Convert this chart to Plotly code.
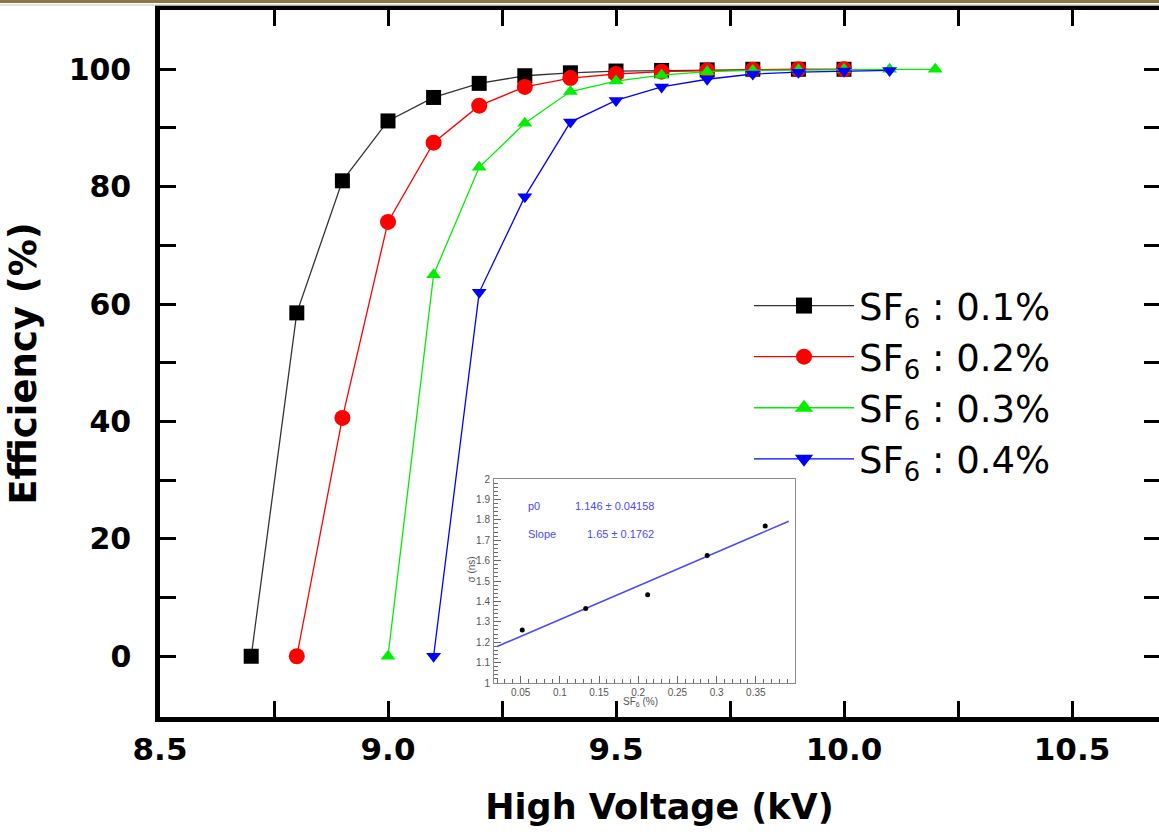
import plotly.graph_objects as go

# ---------------- data ----------------
hv_01 = [8.7, 8.8, 8.9, 9.0, 9.1, 9.2, 9.3, 9.4, 9.5, 9.6, 9.7, 9.8, 9.9, 10.0]
eff_01 = [0, 58.5, 81.0, 91.2, 95.2, 97.6, 98.9, 99.4, 99.7, 99.8, 99.9, 100, 100, 100]

hv_02 = [8.8, 8.9, 9.0, 9.1, 9.2, 9.3, 9.4, 9.5, 9.6, 9.7, 9.8, 9.9, 10.0]
eff_02 = [0, 40.6, 74.0, 87.5, 93.8, 97.0, 98.5, 99.2, 99.6, 99.8, 99.9, 100, 100]

hv_03 = [9.0, 9.1, 9.2, 9.3, 9.4, 9.5, 9.6, 9.7, 9.8, 9.9, 10.0, 10.1, 10.2]
eff_03 = [0, 65.0, 83.3, 90.8, 96.2, 98.0, 99.0, 99.6, 99.8, 99.9, 100, 100, 100]

hv_04 = [9.1, 9.2, 9.3, 9.4, 9.5, 9.6, 9.7, 9.8, 9.9, 10.0, 10.1]
eff_04 = [0, 62.0, 78.3, 91.0, 94.7, 97.0, 98.3, 99.2, 99.5, 99.7, 99.8]

series_labels = ["SF<sub>6</sub> : 0.1%", "SF<sub>6</sub> : 0.2%",
                 "SF<sub>6</sub> : 0.3%", "SF<sub>6</sub> : 0.4%"]
series_colors = ["#000000", "#ff0000", "#00ee00", "#0000ff"]
series_symbols = ["square", "circle", "triangle-up", "triangle-down"]

x_ticks = [8.5, 9.0, 9.5, 10.0, 10.5]
x_ticklabels = ["8.5", "9.0", "9.5", "10.0", "10.5"]
y_ticks = [0, 20, 40, 60, 80, 100]

# time resolution vs SF6 fraction (inset)
sf6_frac = [0.052, 0.133, 0.212, 0.288, 0.362]
sigma_ns = [1.26, 1.365, 1.432, 1.625, 1.77]
fit_p0 = 1.146
fit_slope = 1.65
fit_x = [0.02, 0.392]
fit_y = [fit_p0 + fit_slope * v for v in fit_x]
inset_xticks = [0.05, 0.1, 0.15, 0.2, 0.25, 0.3, 0.35]
inset_xticklabels = ["0.05", "0.1", "0.15", "0.2", "0.25", "0.3", "0.35"]
inset_yticks = [1, 1.1, 1.2, 1.3, 1.4, 1.5, 1.6, 1.7, 1.8, 1.9, 2]
inset_yticklabels = ["1", "1.1", "1.2", "1.3", "1.4", "1.5", "1.6", "1.7", "1.8", "1.9", "2"]

# ---------------- figure ----------------
W, H = 1159, 832
ML, MR, MT, MB = 160, 0, 10, 115
PW, PH = W - ML - MR, H - MT - MB

def px_x(p):
    return (p - ML) / PW

def px_y(p):
    return (H - MB - p) / PH

fig = go.Figure()

all_x = [hv_01, hv_02, hv_03, hv_04]
all_y = [eff_01, eff_02, eff_03, eff_04]
plot_sizes = [15, 16, 13, 13]
legend_sizes = [22, 24, 16, 16]
line_colors = ["#333333", "#ff0000", "#00ee00", "#0000ff"]

for xs, ys, lab, col, sym, ms, lc in zip(all_x, all_y, series_labels, series_colors,
                                          series_symbols, plot_sizes, line_colors):
    fig.add_trace(go.Scatter(
        x=xs, y=ys, mode="lines+markers", name=lab, showlegend=False,
        line=dict(color=lc, width=1.3),
        marker=dict(symbol=sym, size=ms, color=col, line=dict(width=0)),
        xaxis="x", yaxis="y"))

# legend entries with larger symbols
for lab, col, sym, ms, lc in zip(series_labels, series_colors, series_symbols,
                                 legend_sizes, line_colors):
    fig.add_trace(go.Scatter(
        x=[None], y=[None], mode="lines+markers", name=lab, showlegend=True,
        line=dict(color=lc, width=1.3),
        marker=dict(symbol=sym, size=ms, color=col, line=dict(width=0)),
        xaxis="x", yaxis="y"))

# inset: fit line and points
fig.add_trace(go.Scatter(
    x=fit_x, y=fit_y, mode="lines", showlegend=False,
    line=dict(color="#4a4aff", width=1.6), xaxis="x2", yaxis="y2"))
fig.add_trace(go.Scatter(
    x=sf6_frac, y=sigma_ns, mode="markers", showlegend=False,
    marker=dict(color="#000000", size=5), xaxis="x2", yaxis="y2"))

main_font = "DejaVu Sans"
inset_grey = "#666666"

fig.update_layout(
    width=W, height=H,
    margin=dict(l=ML, r=MR, t=MT, b=MB, pad=0),
    paper_bgcolor="white", plot_bgcolor="white",
    font=dict(family=main_font, color="black"),
    showlegend=True,
    legend=dict(
        x=px_x(749), y=px_y(275), xanchor="left", yanchor="top",
        bgcolor="rgba(0,0,0,0)", borderwidth=0,
        font=dict(family=main_font, size=37, color="black"),
        itemwidth=100, tracegroupgap=0, itemclick=False,
    ),
    xaxis=dict(
        range=[8.5, 8.5 + PW / 456.0], domain=[0, 1],
        tickvals=x_ticks, ticktext=x_ticklabels,
        ticks="inside", ticklen=16, tickwidth=3, tickcolor="black",
        minor=dict(tickvals=[8.75, 9.25, 9.75, 10.25], ticks="inside",
                   ticklen=9, tickwidth=3, tickcolor="black"),
        showline=True, linewidth=4.5, linecolor="black", mirror="allticks",
        showgrid=False, zeroline=False,
        tickfont=dict(family=main_font, size=31, color="black", weight="bold"),
        ticklabelstandoff=1,
        title=dict(text="High Voltage (kV)", standoff=30,
                   font=dict(family=main_font, size=35, color="black", weight="bold")),
    ),
    yaxis=dict(
        range=[-10.35, 110.1], domain=[0, 1],
        tickvals=y_ticks,
        ticks="inside", ticklen=16, tickwidth=3, tickcolor="black",
        minor=dict(tickvals=[10, 30, 50, 70, 90], ticks="inside",
                   ticklen=16, tickwidth=3, tickcolor="black"),
        showline=True, linewidth=4.5, linecolor="black", mirror=False,
        showgrid=False, zeroline=False,
        tickfont=dict(family=main_font, size=30, color="black", weight="bold"),
        ticklabelstandoff=18,
        title=dict(text="Efficiency (%)", standoff=22,
                   font=dict(family=main_font, size=37, color="black", weight="bold")),
    ),
    # right-hand tick marks (the right spine itself lies just off the page)
    yaxis3=dict(
        range=[-10.35, 110.1], overlaying="y", side="right", anchor="free",
        position=1.0, showline=False, showgrid=False, zeroline=False,
        tickvals=y_ticks, showticklabels=False,
        ticks="inside", ticklen=15, tickwidth=3, tickcolor="black",
        minor=dict(tickvals=[10, 30, 50, 70, 90], ticks="inside",
                   ticklen=15, tickwidth=3, tickcolor="black"),
    ),
    xaxis2=dict(
        domain=[px_x(494), px_x(795)], anchor="y2",
        range=[0.016, 0.400],
        tickvals=inset_xticks, ticktext=inset_xticklabels,
        ticks="inside", ticklen=7, tickwidth=1, tickcolor=inset_grey,
        minor=dict(dtick=0.01, tick0=0, ticks="inside", ticklen=4,
                   tickwidth=1, tickcolor=inset_grey),
        showline=True, linewidth=1, linecolor="#8a8a8a", mirror=True,
        showgrid=False, zeroline=False,
        tickfont=dict(family="Liberation Sans", size=10, color="#555555"),
        ticklabelstandoff=0,
    ),
    yaxis2=dict(
        domain=[px_y(683), px_y(479)], anchor="x2",
        range=[1.0, 2.0],
        tickvals=inset_yticks, ticktext=inset_yticklabels,
        ticks="inside", ticklen=7, tickwidth=1, tickcolor=inset_grey,
        minor=dict(dtick=0.02, tick0=1.0, ticks="inside", ticklen=4,
                   tickwidth=1, tickcolor=inset_grey),
        showline=True, linewidth=1, linecolor="#8a8a8a", mirror=True,
        showgrid=False, zeroline=False,
        tickfont=dict(family="Liberation Sans", size=10, color="#555555"),
        ticklabelstandoff=1,
    ),
)

# register the free right-hand axis with a hidden trace
fig.add_trace(go.Scatter(x=[None], y=[None], xaxis="x", yaxis="y3",
                         showlegend=False, hoverinfo="skip"))

# inset fit-parameter text and axis titles
fit_blue = "#4a4aff"
inset_notes = [
    ("p0", 0.057, 1.87),
    (f"{fit_p0:.3f} \u00b1 0.04158", 0.117, 1.87),
    ("Slope", 0.057, 1.73),
    (f"{fit_slope:.2f} \u00b1 0.1762", 0.132, 1.73),
]
for txt, xv, yv in inset_notes:
    fig.add_annotation(x=xv, y=yv, xref="x2", yref="y2", text=txt,
                       showarrow=False, xanchor="left", yanchor="middle",
                       font=dict(family="Liberation Sans", size=11, color=fit_blue))

fig.add_annotation(x=px_x(463), y=px_y(585), xref="paper", yref="paper",
                   text="\u03c3 (ns)", textangle=-90, showarrow=False,
                   font=dict(family="Liberation Sans", size=10, color="#555555"))
fig.add_annotation(x=px_x(640), y=px_y(702), xref="paper", yref="paper",
                   text="SF<sub>6</sub> (%)", showarrow=False, yanchor="middle",
                   font=dict(family="Liberation Sans", size=10, color="#555555"))

# dark strip along the very top edge
fig.add_shape(type="rect", xref="paper", yref="paper",
              x0=px_x(0), x1=px_x(W), y0=px_y(0) + 0.01, y1=px_y(3),
              fillcolor="#8c7648", line=dict(width=0), layer="above")
fig.add_shape(type="line", xref="paper", yref="paper",
              x0=px_x(0), x1=px_x(W), y0=px_y(5), y1=px_y(5),
              line=dict(color="#d8d8d8", width=1.5), layer="above")

fig.write_html("out.html")
